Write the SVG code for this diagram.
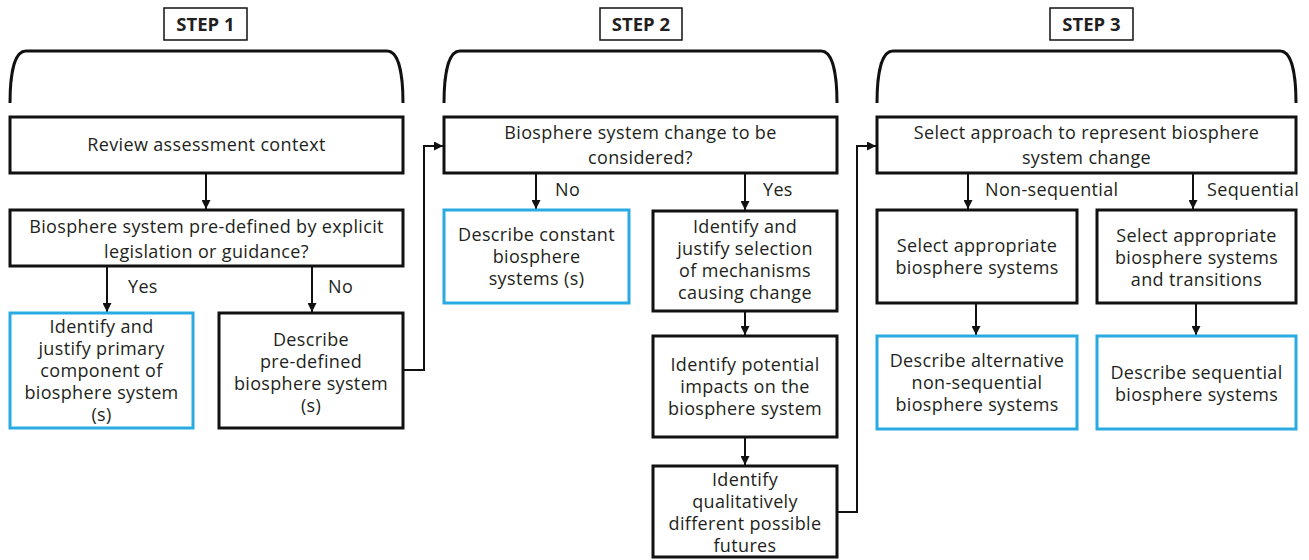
<svg xmlns="http://www.w3.org/2000/svg" width="1309" height="560" viewBox="0 0 1309 560">
<defs>
<marker id="ah" viewBox="0 0 10 10" refX="10" refY="5" markerWidth="9" markerHeight="9" markerUnits="userSpaceOnUse" orient="auto"><path d="M0,0 L10,5 L0,10 z" fill="#111"/></marker>
<style>
.box{fill:#fff;stroke:#111;stroke-width:3}
.blue{fill:#fff;stroke:#29abe2;stroke-width:3}
.lbl{fill:#fff;stroke:#111;stroke-width:1.5}
.brace{fill:none;stroke:#111;stroke-width:3}
.con{fill:none;stroke:#111;stroke-width:2;marker-end:url(#ah)}
text{font-family:"Open Sans","Liberation Sans",sans-serif;font-size:18px;letter-spacing:0.35px;fill:#231f20}
.c{text-anchor:middle}
.step{font-weight:bold;font-size:18.5px;letter-spacing:0}
</style>
</defs>
<rect width="1309" height="560" fill="#fff"/>
<g id="step1-header">
<rect class="lbl" x="164" y="8" width="83" height="32"/>
<text class="c step" x="205.5" y="31">STEP 1</text>
<path class="brace" d="M10,103 C10,75 14,51 26,51 H387 C399,51 403,75 403,103"/>
</g>
<g id="step2-header">
<rect class="lbl" x="600" y="8" width="82" height="32"/>
<text class="c step" x="641" y="31">STEP 2</text>
<path class="brace" d="M444,103 C444,75 448,51 460,51 H821 C833,51 837,75 837,103"/>
</g>
<g id="step3-header">
<rect class="lbl" x="1050" y="8" width="83" height="32"/>
<text class="c step" x="1091.5" y="31">STEP 3</text>
<path class="brace" d="M877,103 C877,75 881,51 893,51 H1280 C1292,51 1296,75 1296,103"/>
</g>
<g id="connectors">
<line class="con" x1="206" y1="173" x2="206" y2="209"/>
<line class="con" x1="107" y1="266" x2="107" y2="312"/>
<line class="con" x1="312" y1="266" x2="312" y2="312"/>
<polyline class="con" points="403,370 424,370 424,146 443,146"/>
<line class="con" x1="536" y1="173" x2="536" y2="209"/>
<line class="con" x1="745" y1="173" x2="745" y2="210"/>
<line class="con" x1="745" y1="311" x2="745" y2="335"/>
<line class="con" x1="745" y1="437" x2="745" y2="465"/>
<polyline class="con" points="837,512 857,512 857,146 876,146"/>
<line class="con" x1="968" y1="173" x2="968" y2="209"/>
<line class="con" x1="1193" y1="173" x2="1193" y2="209"/>
<line class="con" x1="976" y1="303" x2="976" y2="335"/>
<line class="con" x1="1196" y1="303" x2="1196" y2="335"/>
<text x="128" y="293">Yes</text>
<text x="328" y="293">No</text>
<text x="555" y="196">No</text>
<text x="763" y="196">Yes</text>
<text x="985" y="196">Non-sequential</text>
<text x="1207" y="196">Sequential</text>
</g>
<g id="review">
<rect class="box" x="10" y="117" width="393" height="56"/>
<text class="c" x="206.5" y="151">Review assessment context</text>
</g>
<g id="predefined-q">
<rect class="box" x="10" y="210" width="393" height="56"/>
<text class="c" x="206.5" y="233">Biosphere system pre-defined by explicit</text>
<text class="c" x="206.5" y="258">legislation or guidance?</text>
</g>
<g id="identify-primary">
<rect class="blue" x="10" y="313" width="183" height="115"/>
<text class="c" x="101.5" y="333">Identify and</text>
<text class="c" x="101.5" y="355">justify primary</text>
<text class="c" x="101.5" y="377">component of</text>
<text class="c" x="101.5" y="399">biosphere system</text>
<text class="c" x="101.5" y="421">(s)</text>
</g>
<g id="describe-predefined">
<rect class="box" x="219" y="313" width="184" height="115"/>
<text class="c" x="311" y="346">Describe</text>
<text class="c" x="311" y="368">pre-defined</text>
<text class="c" x="311" y="390">biosphere system</text>
<text class="c" x="311" y="412">(s)</text>
</g>
<g id="change-q">
<rect class="box" x="444" y="117" width="393" height="56"/>
<text class="c" x="640.5" y="139">Biosphere system change to be</text>
<text class="c" x="640.5" y="164">considered?</text>
</g>
<g id="describe-constant">
<rect class="blue" x="444" y="210" width="185" height="93"/>
<text class="c" x="536.5" y="241">Describe constant</text>
<text class="c" x="536.5" y="263">biosphere</text>
<text class="c" x="536.5" y="285">systems (s)</text>
</g>
<g id="mechanisms">
<rect class="box" x="653" y="211" width="184" height="100"/>
<text class="c" x="745" y="233">Identify and</text>
<text class="c" x="745" y="255">justify selection</text>
<text class="c" x="745" y="277">of mechanisms</text>
<text class="c" x="745" y="299">causing change</text>
</g>
<g id="impacts">
<rect class="box" x="653" y="336" width="184" height="101"/>
<text class="c" x="745" y="371">Identify potential</text>
<text class="c" x="745" y="393">impacts on the</text>
<text class="c" x="745" y="415">biosphere system</text>
</g>
<g id="futures">
<rect class="box" x="653" y="466" width="184" height="91"/>
<text class="c" x="745" y="486">Identify</text>
<text class="c" x="745" y="508">qualitatively</text>
<text class="c" x="745" y="530">different possible</text>
<text class="c" x="745" y="552">futures</text>
</g>
<g id="approach">
<rect class="box" x="877" y="117" width="419" height="56"/>
<text class="c" x="1086.5" y="139">Select approach to represent biosphere</text>
<text class="c" x="1086.5" y="164">system change</text>
</g>
<g id="select-nonseq">
<rect class="box" x="877" y="210" width="200" height="93"/>
<text class="c" x="977" y="252">Select appropriate</text>
<text class="c" x="977" y="274">biosphere systems</text>
</g>
<g id="select-seq">
<rect class="box" x="1097" y="210" width="199" height="93"/>
<text class="c" x="1196.5" y="242">Select appropriate</text>
<text class="c" x="1196.5" y="264">biosphere systems</text>
<text class="c" x="1196.5" y="286">and transitions</text>
</g>
<g id="describe-nonseq">
<rect class="blue" x="877" y="336" width="200" height="93"/>
<text class="c" x="977" y="367">Describe alternative</text>
<text class="c" x="977" y="389">non-sequential</text>
<text class="c" x="977" y="411">biosphere systems</text>
</g>
<g id="describe-seq">
<rect class="blue" x="1097" y="336" width="199" height="93"/>
<text class="c" x="1196.5" y="379">Describe sequential</text>
<text class="c" x="1196.5" y="401">biosphere systems</text>
</g>
</svg>
